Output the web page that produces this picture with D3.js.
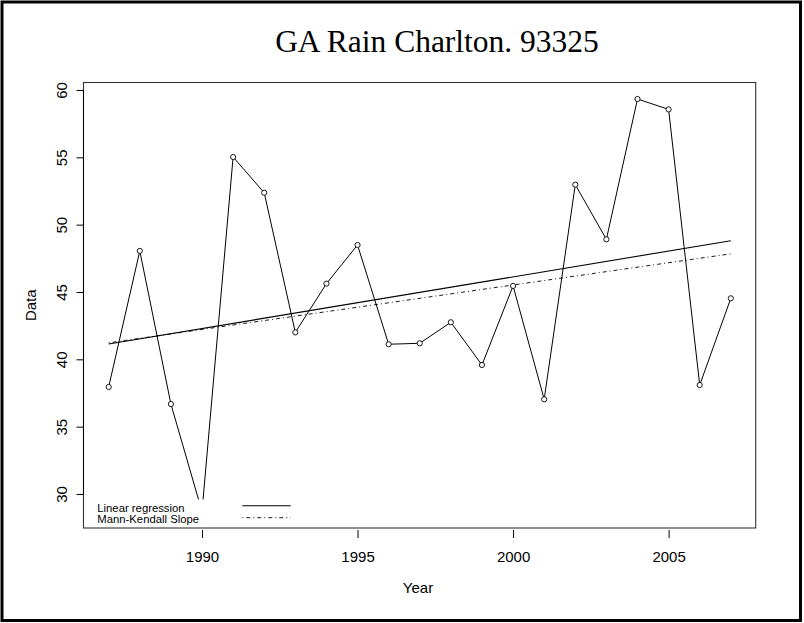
<!DOCTYPE html>
<html>
<head>
<meta charset="utf-8">
<script src="https://cdn.jsdelivr.net/npm/d3@7"></script>
<style>
  html, body { margin: 0; padding: 0; background: #fff; }
  svg { display: block; }
  text { font-family: "Liberation Sans", Arial, sans-serif; fill: #000; }
</style>
</head>
<body>
<script>
// ---- data ----
const years = [1987, 1988, 1989, 1990, 1991, 1992, 1993, 1994, 1995, 1996, 1997,
               1998, 1999, 2000, 2001, 2002, 2003, 2004, 2005, 2006, 2007];
const rain = [37.95, 48.05, 36.68, 28.7, 55.02, 52.37, 42.0, 45.62, 48.49, 41.12, 41.19,
              42.75, 39.58, 45.45, 37.03, 52.97, 48.91, 59.33, 58.56, 38.09, 44.53];
const xTicks = [1990, 1995, 2000, 2005];
const yTicks = [30, 35, 40, 45, 50, 55, 60];
const legendLabels = ["Linear regression", "Mann-Kendall Slope"];
const titleText = "GA Rain Charlton. 93325";
const xLabel = "Year";
const yLabel = "Data";

// ---- layout ----
const W = 804, H = 623;
const box = { left: 83.5, right: 755.7, top: 82.5, bottom: 528 };

const svg = d3.select("body").append("svg").attr("width", W).attr("height", H);

// R-style 4% extension of data ranges
function ext(arr) {
  const [a, b] = d3.extent(arr); const r = b - a;
  return [a - 0.04 * r, b + 0.04 * r];
}
const x = d3.scaleLinear().domain(ext(years)).range([box.left + 0.3, box.right]);
const y = d3.scaleLinear().domain(ext(rain)).range([box.bottom, box.top]);

// outer border
svg.append("rect").attr("x", 2).attr("y", 2).attr("width", 798.5).attr("height", 618.5)
  .attr("fill", "none").attr("stroke", "#000").attr("stroke-width", 3);

// title
svg.append("text").attr("x", 437).attr("y", 52.3).attr("text-anchor", "middle")
  .style("font-family", "'Liberation Serif', 'Times New Roman', serif")
  .style("font-size", "31.5px").text(titleText);

// data series
const pts = years.map((yr, i) => ({ yr, v: rain[i] }));
svg.append("path").datum(pts)
  .attr("d", d3.line().x(d => x(d.yr)).y(d => y(d.v)))
  .attr("fill", "none").attr("stroke", "#000").attr("stroke-width", 1);

// linear regression (least squares)
const mx = d3.mean(years), my = d3.mean(rain);
const sxy = d3.sum(years, (t, i) => (t - mx) * (rain[i] - my));
const sxx = d3.sum(years, t => (t - mx) * (t - mx));
const lrSlope = sxy / sxx, lrInt = my - lrSlope * mx;

// Sen / Mann-Kendall slope
const slopes = [];
for (let i = 0; i < years.length; i++)
  for (let j = i + 1; j < years.length; j++)
    slopes.push((rain[j] - rain[i]) / (years[j] - years[i]));
const senSlope = d3.median(slopes);
const senInt = d3.median(rain) - senSlope * d3.median(years);

const x0 = d3.min(years), x1 = d3.max(years);
svg.append("line")
  .attr("x1", x(x0)).attr("y1", y(lrInt + lrSlope * x0))
  .attr("x2", x(x1)).attr("y2", y(lrInt + lrSlope * x1))
  .attr("stroke", "#000").attr("stroke-width", 1.1);
svg.append("line")
  .attr("x1", x(x0)).attr("y1", y(senInt + senSlope * x0))
  .attr("x2", x(x1)).attr("y2", y(senInt + senSlope * x1))
  .attr("stroke", "#000").attr("stroke-width", 0.9).attr("stroke-dasharray", "1,3,4,3");

// points (open circles)
svg.selectAll("circle.pt").data(pts).enter().append("circle")
  .attr("class", "pt").attr("cx", d => x(d.yr)).attr("cy", d => y(d.v)).attr("r", 2.6)
  .attr("fill", "#fff").attr("stroke", "#000").attr("stroke-width", 0.9);

// legend (white background box, no border)
svg.append("rect").attr("x", box.left + 0.5).attr("y", 499.5)
  .attr("width", 215).attr("height", box.bottom - 499.5 - 0.5).attr("fill", "#fff");
const lg = svg.append("g");
legendLabels.forEach((lab, i) => {
  lg.append("text").attr("x", 97.3).attr("y", 511.7 + i * 11.6)
    .style("font-size", "11.3px").text(lab);
  lg.append("line").attr("x1", 242.3).attr("x2", 290.7)
    .attr("y1", 505.7 + i * 12).attr("y2", 505.7 + i * 12)
    .attr("stroke", "#000").attr("stroke-width", i === 0 ? 1.1 : 0.9)
    .attr("stroke-dasharray", i === 0 ? null : "1,3,4,3");
});

// plot box
svg.append("rect").attr("x", box.left).attr("y", box.top)
  .attr("width", box.right - box.left).attr("height", box.bottom - box.top)
  .attr("fill", "none").attr("stroke", "#333").attr("stroke-width", 1.1);

// x axis: ticks only, slightly below the box
const xa = svg.append("g").attr("transform", `translate(0,${box.bottom + 2})`)
  .call(d3.axisBottom(x).tickValues(xTicks).tickFormat(d3.format("d")).tickSize(8).tickPadding(13));
xa.select(".domain").remove();
xa.selectAll("text").style("font-size", "15px").style("font-family", "'Liberation Sans', Arial, sans-serif");
xa.selectAll("line").attr("stroke", "#000");

// y axis
const ya = svg.append("g").attr("transform", `translate(${box.left},0)`)
  .call(d3.axisLeft(y).tickValues(yTicks).tickFormat(d3.format("d")).tickSize(7));
ya.select(".domain").attr("d", `M0,${y(30)}V${y(60)}`).attr("stroke", "#000");
ya.selectAll("line").attr("stroke", "#000");
ya.selectAll(".tick text")
  .attr("x", null).attr("dy", null)
  .attr("transform", "translate(-16.5,0) rotate(-90)")
  .attr("text-anchor", "middle")
  .style("font-size", "15px").style("font-family", "'Liberation Sans', Arial, sans-serif");

// axis titles
svg.append("text").attr("x", 418).attr("y", 593.3).attr("text-anchor", "middle")
  .style("font-size", "15px").text(xLabel);
svg.append("text").attr("transform", `translate(36,${(box.top + box.bottom) / 2}) rotate(-90)`)
  .attr("text-anchor", "middle").style("font-size", "15px").text(yLabel);
</script>
</body>
</html>
